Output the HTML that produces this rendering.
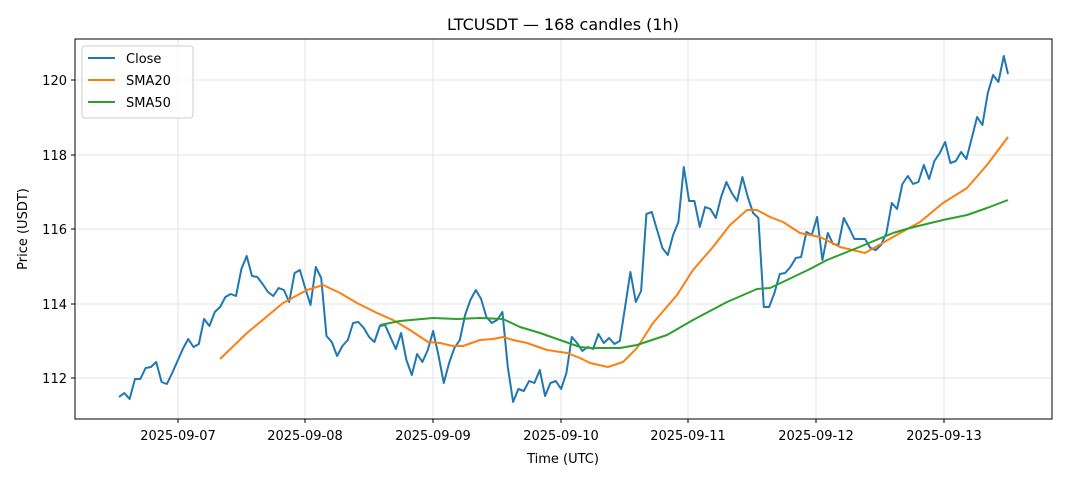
<!DOCTYPE html>
<html><head><meta charset="utf-8"><style>body{margin:0;background:#fff}svg{display:block}text{font-family:"DejaVu Sans","Liberation Sans",sans-serif;fill:#000}</style></head><body>
<svg width="1068" height="481" viewBox="0 0 1068 481" xmlns="http://www.w3.org/2000/svg">
<rect width="1068" height="481" fill="#fff"/>
<g stroke="#e5e5e5" stroke-width="1">
<line x1="178" y1="39" x2="178" y2="419"/><line x1="305" y1="39" x2="305" y2="419"/><line x1="433" y1="39" x2="433" y2="419"/><line x1="561" y1="39" x2="561" y2="419"/><line x1="688" y1="39" x2="688" y2="419"/><line x1="816" y1="39" x2="816" y2="419"/><line x1="944" y1="39" x2="944" y2="419"/>
<line x1="75" y1="378" x2="1052" y2="378"/><line x1="75" y1="304" x2="1052" y2="304"/><line x1="75" y1="229" x2="1052" y2="229"/><line x1="75" y1="155" x2="1052" y2="155"/><line x1="75" y1="80" x2="1052" y2="80"/>
</g>
<g fill="none" stroke-width="2" stroke-linejoin="round">
<polyline stroke="#1f77b4" points="119,397 124.3,393 129.6,399 135,379 140.3,379 145.6,368 150.9,367 156.2,362 161.6,382 166.9,384 172.2,373 177.5,361 182.8,349 188.2,339 193.5,347 198.8,344 204.1,319 209.4,326 214.8,312 220.1,307 225.4,297 230.7,294 236,296 241.4,269 246.7,256 252,276 257.3,277 262.6,284 268,292 273.3,296 278.6,288 283.9,290 289.2,302 294.6,273 299.9,270 305.2,288 310.5,305 315.8,267 321.2,278 326.5,336 331.8,342 337.1,356 342.4,346 347.8,340 353.1,323 358.4,322 363.8,328 369.1,337 374.4,342 379.8,326 385.1,325 390.4,337 395.8,349 401.1,333 406.4,360 411.8,375 417.1,354 422.4,362 427.8,350 433.1,331 438.4,355 443.8,383 449.1,363 454.4,348 459.8,340 465.1,315 470.4,300 475.8,290 481.1,299 486.4,317 491.8,323 497.1,320 502.4,312 507.8,367 513.1,402 518.4,389 523.8,391 529.1,381 534.4,383 539.8,370 545.1,396 550.4,383 555.8,381 561.1,389 566.4,373 571.8,337 577.1,343 582.4,351 587.8,347 593.1,349 598.4,334 603.8,343 609.1,338 614.4,344 619.8,341 625.1,307 630.4,272 635.8,302 641.1,291 646.4,214 651.8,212 657.1,230 662.4,248 667.8,255 673.1,235 678.4,222 683.8,167 689.1,201 694.4,201 699.8,227 705.1,207 710.4,209 715.8,218 721.1,197 726.4,182 731.8,193 737.1,201 742.4,177 747.8,197 753.1,213 758.4,218 763.8,307 769.1,307 774.4,293 779.8,274 785.1,273 790.4,267 795.8,258 801.1,257 806.4,232 811.8,235 817.1,217 822.4,260 827.8,233 833.1,244 838.4,245 843.8,218 849.1,228 854.4,239 859.8,239 865.1,239 870.4,248 875.8,250 881.1,245 886.4,233 891.8,203 897.1,209 902.4,184 907.8,176 913.1,184 918.4,182 923.8,165 929.1,179 934.4,161 939.8,153 945.1,142 950.4,163 955.8,161 961.1,152 966.4,159 971.8,138 977.1,117 982.4,125 987.8,93 993.1,75 998.4,82 1003.8,56 1008,74"/>
<polyline stroke="#ff7f0e" points="220,359 247,333 283,303 307,290 323,285 340,293 357,303 377,313 393,320 410,330 428,342 440,343 453,346 463,346 480,340 493,339 503,337 513,340 527,343 547,350 567,353 580,358 590,363 608,367 623,362 637,348 653,323 677,295 693,270 713,247 730,225 747,210 757,210 770,217 783,222 800,233 820,237 840,247 865,253 893,237 920,222 943,203 967,188 987,165 1008,137"/>
<polyline stroke="#2ca02c" points="380,325 400,321 433,318 457,319 480,318 503,319 520,327 540,333 560,340 580,347 590,348 620,348 637,345 667,335 693,320 727,302 757,289 770,288 787,280 810,269 827,260 857,248 893,233 910,228 943,220 967,215 987,208 1008,200"/>
</g>
<rect x="75" y="39" width="977" height="380" fill="none" stroke="#000" stroke-width="1"/>
<g stroke="#000"><line x1="178" y1="419" x2="178" y2="423"/><line x1="305" y1="419" x2="305" y2="423"/><line x1="433" y1="419" x2="433" y2="423"/><line x1="561" y1="419" x2="561" y2="423"/><line x1="688" y1="419" x2="688" y2="423"/><line x1="816" y1="419" x2="816" y2="423"/><line x1="944" y1="419" x2="944" y2="423"/>
<line x1="71" y1="378" x2="75" y2="378"/><line x1="71" y1="304" x2="75" y2="304"/><line x1="71" y1="229" x2="75" y2="229"/><line x1="71" y1="155" x2="75" y2="155"/><line x1="71" y1="80" x2="75" y2="80"/></g>
<g font-size="13" text-anchor="middle"><text x="178" y="440">2025-09-07</text><text x="305" y="440">2025-09-08</text><text x="433" y="440">2025-09-09</text><text x="561" y="440">2025-09-10</text><text x="688" y="440">2025-09-11</text><text x="816" y="440">2025-09-12</text><text x="944" y="440">2025-09-13</text></g>
<g font-size="13" text-anchor="end"><text x="67" y="383">112</text><text x="67" y="309">114</text><text x="67" y="234">116</text><text x="67" y="160">118</text><text x="67" y="85">120</text></g>
<text x="563" y="463" font-size="13" text-anchor="middle">Time (UTC)</text>
<text x="27" y="229" font-size="13" text-anchor="middle" transform="rotate(-90 27 229)">Price (USDT)</text>
<text x="563" y="30" font-size="16" text-anchor="middle">LTCUSDT — 168 candles (1h)</text>
<rect x="82" y="46" width="111" height="72" rx="3" fill="#fff" fill-opacity="0.8" stroke="#ccc"/>
<g stroke-width="2"><line x1="88" y1="58" x2="115" y2="58" stroke="#1f77b4"/><line x1="88" y1="80" x2="115" y2="80" stroke="#ff7f0e"/><line x1="88" y1="102" x2="115" y2="102" stroke="#2ca02c"/></g>
<g font-size="13"><text x="126" y="63">Close</text><text x="126" y="85">SMA20</text><text x="126" y="107">SMA50</text></g>
</svg>
</body></html>
